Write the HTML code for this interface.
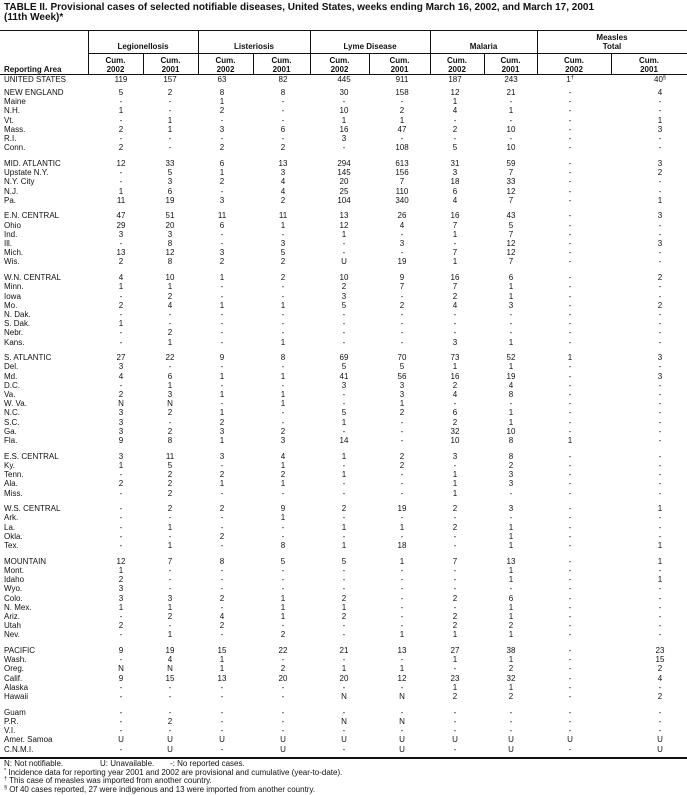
<!DOCTYPE html>
<html><head><meta charset="utf-8">
<style>
html,body{margin:0;padding:0;background:#fff;}
body{width:687px;height:795px;position:relative;overflow:hidden;font-family:"Liberation Sans",Arial,sans-serif;color:#111;font-size:8px;}
.t{position:absolute;left:4px;top:3px;font-weight:bold;font-size:10px;line-height:10px;white-space:nowrap;}
.ln{position:absolute;background:#111;}
.h{position:absolute;font-weight:bold;font-size:8px;line-height:9px;text-align:center;width:80px;white-space:nowrap;}
.r{position:absolute;left:0;width:687px;height:10px;line-height:10px;white-space:nowrap;}
.r span{position:absolute;top:0;width:40px;text-align:center;}
.r span:nth-child(1){left:4px;width:auto;text-align:left;}
.r span:nth-child(2){left:101px}
.r span:nth-child(3){left:150px}
.r span:nth-child(4){left:202px}
.r span:nth-child(5){left:263px}
.r span:nth-child(6){left:324px}
.r span:nth-child(7){left:382px}
.r span:nth-child(8){left:435px}
.r span:nth-child(9){left:491px}
.r span:nth-child(10){left:550px}
.r span:nth-child(11){left:640px}
sup{font-size:5.5px;vertical-align:3px;line-height:0;}
.f{position:absolute;left:4px;font-size:8px;line-height:9px;white-space:nowrap;}
</style></head><body>
<div class="t">TABLE II. Provisional cases of selected notifiable diseases, United States, weeks ending March 16, 2002, and March 17, 2001<br>(11th Week)*</div>

<div class="ln" style="left:0;top:29.5px;width:687px;height:1.5px"></div>
<div class="ln" style="left:88px;top:53px;width:599px;height:1px"></div>
<div class="ln" style="left:0;top:73.5px;width:687px;height:1px"></div>
<div class="ln" style="left:88px;top:31px;width:1px;height:42.5px"></div>
<div class="ln" style="left:198px;top:31px;width:1px;height:42.5px"></div>
<div class="ln" style="left:310px;top:31px;width:1px;height:42.5px"></div>
<div class="ln" style="left:430px;top:31px;width:1px;height:42.5px"></div>
<div class="ln" style="left:537px;top:31px;width:1px;height:42.5px"></div>
<div class="ln" style="left:143px;top:53px;width:1px;height:20.5px"></div>
<div class="ln" style="left:253px;top:53px;width:1px;height:20.5px"></div>
<div class="ln" style="left:369px;top:53px;width:1px;height:20.5px"></div>
<div class="ln" style="left:484px;top:53px;width:1px;height:20.5px"></div>
<div class="ln" style="left:611px;top:53px;width:1px;height:20.5px"></div>
<div class="ln" style="left:0;top:757px;width:687px;height:1.5px"></div>

<div class="h" style="left:103px;top:41.5px">Legionellosis</div>
<div class="h" style="left:214px;top:41.5px">Listeriosis</div>
<div class="h" style="left:330px;top:41.5px">Lyme Disease</div>
<div class="h" style="left:443.5px;top:41.5px">Malaria</div>
<div class="h" style="left:572px;top:33px">Measles<br>Total</div>

<div class="h" style="left:4px;top:64.5px;text-align:left">Reporting Area</div>
<div class="h" style="left:75.5px;top:55.5px">Cum.<br>2002</div>
<div class="h" style="left:130.5px;top:55.5px">Cum.<br>2001</div>
<div class="h" style="left:185.5px;top:55.5px">Cum.<br>2002</div>
<div class="h" style="left:241.5px;top:55.5px">Cum.<br>2001</div>
<div class="h" style="left:299.5px;top:55.5px">Cum.<br>2002</div>
<div class="h" style="left:359.5px;top:55.5px">Cum.<br>2001</div>
<div class="h" style="left:417px;top:55.5px">Cum.<br>2002</div>
<div class="h" style="left:470.5px;top:55.5px">Cum.<br>2001</div>
<div class="h" style="left:534px;top:55.5px">Cum.<br>2002</div>
<div class="h" style="left:609px;top:55.5px">Cum.<br>2001</div>

<div class="r" style="top:74.5px"><span>UNITED STATES</span><span>119</span><span>157</span><span>63</span><span>82</span><span>445</span><span>911</span><span>187</span><span>243</span><span>1<sup>†</sup></span><span>40<sup>§</sup></span></div>

<div class="r" style="top:88px"><span>NEW ENGLAND</span><span>5</span><span>2</span><span>8</span><span>8</span><span>30</span><span>158</span><span>12</span><span>21</span><span>-</span><span>4</span></div>
<div class="r" style="top:97.2px"><span>Maine</span><span>-</span><span>-</span><span>1</span><span>-</span><span>-</span><span>-</span><span>1</span><span>-</span><span>-</span><span>-</span></div>
<div class="r" style="top:106.4px"><span>N.H.</span><span>1</span><span>-</span><span>2</span><span>-</span><span>10</span><span>2</span><span>4</span><span>1</span><span>-</span><span>-</span></div>
<div class="r" style="top:115.6px"><span>Vt.</span><span>-</span><span>1</span><span>-</span><span>-</span><span>1</span><span>1</span><span>-</span><span>-</span><span>-</span><span>1</span></div>
<div class="r" style="top:124.8px"><span>Mass.</span><span>2</span><span>1</span><span>3</span><span>6</span><span>16</span><span>47</span><span>2</span><span>10</span><span>-</span><span>3</span></div>
<div class="r" style="top:134px"><span>R.I.</span><span>-</span><span>-</span><span>-</span><span>-</span><span>3</span><span>-</span><span>-</span><span>-</span><span>-</span><span>-</span></div>
<div class="r" style="top:143.2px"><span>Conn.</span><span>2</span><span>-</span><span>2</span><span>2</span><span>-</span><span>108</span><span>5</span><span>10</span><span>-</span><span>-</span></div>

<div class="r" style="top:158.9px"><span>MID. ATLANTIC</span><span>12</span><span>33</span><span>6</span><span>13</span><span>294</span><span>613</span><span>31</span><span>59</span><span>-</span><span>3</span></div>
<div class="r" style="top:168.1px"><span>Upstate N.Y.</span><span>-</span><span>5</span><span>1</span><span>3</span><span>145</span><span>156</span><span>3</span><span>7</span><span>-</span><span>2</span></div>
<div class="r" style="top:177.3px"><span>N.Y. City</span><span>-</span><span>3</span><span>2</span><span>4</span><span>20</span><span>7</span><span>18</span><span>33</span><span>-</span><span>-</span></div>
<div class="r" style="top:186.5px"><span>N.J.</span><span>1</span><span>6</span><span>-</span><span>4</span><span>25</span><span>110</span><span>6</span><span>12</span><span>-</span><span>-</span></div>
<div class="r" style="top:195.7px"><span>Pa.</span><span>11</span><span>19</span><span>3</span><span>2</span><span>104</span><span>340</span><span>4</span><span>7</span><span>-</span><span>1</span></div>

<div class="r" style="top:211.4px"><span>E.N. CENTRAL</span><span>47</span><span>51</span><span>11</span><span>11</span><span>13</span><span>26</span><span>16</span><span>43</span><span>-</span><span>3</span></div>
<div class="r" style="top:220.6px"><span>Ohio</span><span>29</span><span>20</span><span>6</span><span>1</span><span>12</span><span>4</span><span>7</span><span>5</span><span>-</span><span>-</span></div>
<div class="r" style="top:229.8px"><span>Ind.</span><span>3</span><span>3</span><span>-</span><span>-</span><span>1</span><span>-</span><span>1</span><span>7</span><span>-</span><span>-</span></div>
<div class="r" style="top:239px"><span>Ill.</span><span>-</span><span>8</span><span>-</span><span>3</span><span>-</span><span>3</span><span>-</span><span>12</span><span>-</span><span>3</span></div>
<div class="r" style="top:248.2px"><span>Mich.</span><span>13</span><span>12</span><span>3</span><span>5</span><span>-</span><span>-</span><span>7</span><span>12</span><span>-</span><span>-</span></div>
<div class="r" style="top:257.4px"><span>Wis.</span><span>2</span><span>8</span><span>2</span><span>2</span><span>U</span><span>19</span><span>1</span><span>7</span><span>-</span><span>-</span></div>

<div class="r" style="top:273.1px"><span>W.N. CENTRAL</span><span>4</span><span>10</span><span>1</span><span>2</span><span>10</span><span>9</span><span>16</span><span>6</span><span>-</span><span>2</span></div>
<div class="r" style="top:282.3px"><span>Minn.</span><span>1</span><span>1</span><span>-</span><span>-</span><span>2</span><span>7</span><span>7</span><span>1</span><span>-</span><span>-</span></div>
<div class="r" style="top:291.5px"><span>Iowa</span><span>-</span><span>2</span><span>-</span><span>-</span><span>3</span><span>-</span><span>2</span><span>1</span><span>-</span><span>-</span></div>
<div class="r" style="top:300.7px"><span>Mo.</span><span>2</span><span>4</span><span>1</span><span>1</span><span>5</span><span>2</span><span>4</span><span>3</span><span>-</span><span>2</span></div>
<div class="r" style="top:309.9px"><span>N. Dak.</span><span>-</span><span>-</span><span>-</span><span>-</span><span>-</span><span>-</span><span>-</span><span>-</span><span>-</span><span>-</span></div>
<div class="r" style="top:319.1px"><span>S. Dak.</span><span>1</span><span>-</span><span>-</span><span>-</span><span>-</span><span>-</span><span>-</span><span>-</span><span>-</span><span>-</span></div>
<div class="r" style="top:328.3px"><span>Nebr.</span><span>-</span><span>2</span><span>-</span><span>-</span><span>-</span><span>-</span><span>-</span><span>-</span><span>-</span><span>-</span></div>
<div class="r" style="top:337.5px"><span>Kans.</span><span>-</span><span>1</span><span>-</span><span>1</span><span>-</span><span>-</span><span>3</span><span>1</span><span>-</span><span>-</span></div>

<div class="r" style="top:353.2px"><span>S. ATLANTIC</span><span>27</span><span>22</span><span>9</span><span>8</span><span>69</span><span>70</span><span>73</span><span>52</span><span>1</span><span>3</span></div>
<div class="r" style="top:362.4px"><span>Del.</span><span>3</span><span>-</span><span>-</span><span>-</span><span>5</span><span>5</span><span>1</span><span>1</span><span>-</span><span>-</span></div>
<div class="r" style="top:371.6px"><span>Md.</span><span>4</span><span>6</span><span>1</span><span>1</span><span>41</span><span>56</span><span>16</span><span>19</span><span>-</span><span>3</span></div>
<div class="r" style="top:380.8px"><span>D.C.</span><span>-</span><span>1</span><span>-</span><span>-</span><span>3</span><span>3</span><span>2</span><span>4</span><span>-</span><span>-</span></div>
<div class="r" style="top:390px"><span>Va.</span><span>2</span><span>3</span><span>1</span><span>1</span><span>-</span><span>3</span><span>4</span><span>8</span><span>-</span><span>-</span></div>
<div class="r" style="top:399.2px"><span>W. Va.</span><span>N</span><span>N</span><span>-</span><span>1</span><span>-</span><span>1</span><span>-</span><span>-</span><span>-</span><span>-</span></div>
<div class="r" style="top:408.4px"><span>N.C.</span><span>3</span><span>2</span><span>1</span><span>-</span><span>5</span><span>2</span><span>6</span><span>1</span><span>-</span><span>-</span></div>
<div class="r" style="top:417.6px"><span>S.C.</span><span>3</span><span>-</span><span>2</span><span>-</span><span>1</span><span>-</span><span>2</span><span>1</span><span>-</span><span>-</span></div>
<div class="r" style="top:426.8px"><span>Ga.</span><span>3</span><span>2</span><span>3</span><span>2</span><span>-</span><span>-</span><span>32</span><span>10</span><span>-</span><span>-</span></div>
<div class="r" style="top:436px"><span>Fla.</span><span>9</span><span>8</span><span>1</span><span>3</span><span>14</span><span>-</span><span>10</span><span>8</span><span>1</span><span>-</span></div>

<div class="r" style="top:451.7px"><span>E.S. CENTRAL</span><span>3</span><span>11</span><span>3</span><span>4</span><span>1</span><span>2</span><span>3</span><span>8</span><span>-</span><span>-</span></div>
<div class="r" style="top:460.9px"><span>Ky.</span><span>1</span><span>5</span><span>-</span><span>1</span><span>-</span><span>2</span><span>-</span><span>2</span><span>-</span><span>-</span></div>
<div class="r" style="top:470.1px"><span>Tenn.</span><span>-</span><span>2</span><span>2</span><span>2</span><span>1</span><span>-</span><span>1</span><span>3</span><span>-</span><span>-</span></div>
<div class="r" style="top:479.3px"><span>Ala.</span><span>2</span><span>2</span><span>1</span><span>1</span><span>-</span><span>-</span><span>1</span><span>3</span><span>-</span><span>-</span></div>
<div class="r" style="top:488.5px"><span>Miss.</span><span>-</span><span>2</span><span>-</span><span>-</span><span>-</span><span>-</span><span>1</span><span>-</span><span>-</span><span>-</span></div>

<div class="r" style="top:504.2px"><span>W.S. CENTRAL</span><span>-</span><span>2</span><span>2</span><span>9</span><span>2</span><span>19</span><span>2</span><span>3</span><span>-</span><span>1</span></div>
<div class="r" style="top:513.4px"><span>Ark.</span><span>-</span><span>-</span><span>-</span><span>1</span><span>-</span><span>-</span><span>-</span><span>-</span><span>-</span><span>-</span></div>
<div class="r" style="top:522.6px"><span>La.</span><span>-</span><span>1</span><span>-</span><span>-</span><span>1</span><span>1</span><span>2</span><span>1</span><span>-</span><span>-</span></div>
<div class="r" style="top:531.8px"><span>Okla.</span><span>-</span><span>-</span><span>2</span><span>-</span><span>-</span><span>-</span><span>-</span><span>1</span><span>-</span><span>-</span></div>
<div class="r" style="top:541px"><span>Tex.</span><span>-</span><span>1</span><span>-</span><span>8</span><span>1</span><span>18</span><span>-</span><span>1</span><span>-</span><span>1</span></div>

<div class="r" style="top:556.7px"><span>MOUNTAIN</span><span>12</span><span>7</span><span>8</span><span>5</span><span>5</span><span>1</span><span>7</span><span>13</span><span>-</span><span>1</span></div>
<div class="r" style="top:565.9px"><span>Mont.</span><span>1</span><span>-</span><span>-</span><span>-</span><span>-</span><span>-</span><span>-</span><span>1</span><span>-</span><span>-</span></div>
<div class="r" style="top:575.1px"><span>Idaho</span><span>2</span><span>-</span><span>-</span><span>-</span><span>-</span><span>-</span><span>-</span><span>1</span><span>-</span><span>1</span></div>
<div class="r" style="top:584.3px"><span>Wyo.</span><span>3</span><span>-</span><span>-</span><span>-</span><span>-</span><span>-</span><span>-</span><span>-</span><span>-</span><span>-</span></div>
<div class="r" style="top:593.5px"><span>Colo.</span><span>3</span><span>3</span><span>2</span><span>1</span><span>2</span><span>-</span><span>2</span><span>6</span><span>-</span><span>-</span></div>
<div class="r" style="top:602.7px"><span>N. Mex.</span><span>1</span><span>1</span><span>-</span><span>1</span><span>1</span><span>-</span><span>-</span><span>1</span><span>-</span><span>-</span></div>
<div class="r" style="top:611.9px"><span>Ariz.</span><span>-</span><span>2</span><span>4</span><span>1</span><span>2</span><span>-</span><span>2</span><span>1</span><span>-</span><span>-</span></div>
<div class="r" style="top:621.1px"><span>Utah</span><span>2</span><span>-</span><span>2</span><span>-</span><span>-</span><span>-</span><span>2</span><span>2</span><span>-</span><span>-</span></div>
<div class="r" style="top:630.3px"><span>Nev.</span><span>-</span><span>1</span><span>-</span><span>2</span><span>-</span><span>1</span><span>1</span><span>1</span><span>-</span><span>-</span></div>

<div class="r" style="top:646px"><span>PACIFIC</span><span>9</span><span>19</span><span>15</span><span>22</span><span>21</span><span>13</span><span>27</span><span>38</span><span>-</span><span>23</span></div>
<div class="r" style="top:655.2px"><span>Wash.</span><span>-</span><span>4</span><span>1</span><span>-</span><span>-</span><span>-</span><span>1</span><span>1</span><span>-</span><span>15</span></div>
<div class="r" style="top:664.4px"><span>Oreg.</span><span>N</span><span>N</span><span>1</span><span>2</span><span>1</span><span>1</span><span>-</span><span>2</span><span>-</span><span>2</span></div>
<div class="r" style="top:673.6px"><span>Calif.</span><span>9</span><span>15</span><span>13</span><span>20</span><span>20</span><span>12</span><span>23</span><span>32</span><span>-</span><span>4</span></div>
<div class="r" style="top:682.8px"><span>Alaska</span><span>-</span><span>-</span><span>-</span><span>-</span><span>-</span><span>-</span><span>1</span><span>1</span><span>-</span><span>-</span></div>
<div class="r" style="top:692px"><span>Hawaii</span><span>-</span><span>-</span><span>-</span><span>-</span><span>N</span><span>N</span><span>2</span><span>2</span><span>-</span><span>2</span></div>

<div class="r" style="top:707.7px"><span>Guam</span><span>-</span><span>-</span><span>-</span><span>-</span><span>-</span><span>-</span><span>-</span><span>-</span><span>-</span><span>-</span></div>
<div class="r" style="top:716.9px"><span>P.R.</span><span>-</span><span>2</span><span>-</span><span>-</span><span>N</span><span>N</span><span>-</span><span>-</span><span>-</span><span>-</span></div>
<div class="r" style="top:726.1px"><span>V.I.</span><span>-</span><span>-</span><span>-</span><span>-</span><span>-</span><span>-</span><span>-</span><span>-</span><span>-</span><span>-</span></div>
<div class="r" style="top:735.3px"><span>Amer. Samoa</span><span>U</span><span>U</span><span>U</span><span>U</span><span>U</span><span>U</span><span>U</span><span>U</span><span>U</span><span>U</span></div>
<div class="r" style="top:744.5px"><span>C.N.M.I.</span><span>-</span><span>U</span><span>-</span><span>U</span><span>-</span><span>U</span><span>-</span><span>U</span><span>-</span><span>U</span></div>

<div class="f" style="top:759px">N: Not notifiable.</div>
<div class="f" style="top:759px;left:100px">U: Unavailable.</div>
<div class="f" style="top:759px;left:170px">-: No reported cases.</div>
<div class="f" style="top:767.5px"><sup>*</sup> Incidence data for reporting year 2001 and 2002 are provisional and cumulative (year-to-date).</div>
<div class="f" style="top:776px"><sup>†</sup> This case of measles was imported from another country.</div>
<div class="f" style="top:784.5px"><sup>§</sup> Of 40 cases reported, 27 were indigenous and 13 were imported from another country.</div>
</body></html>
